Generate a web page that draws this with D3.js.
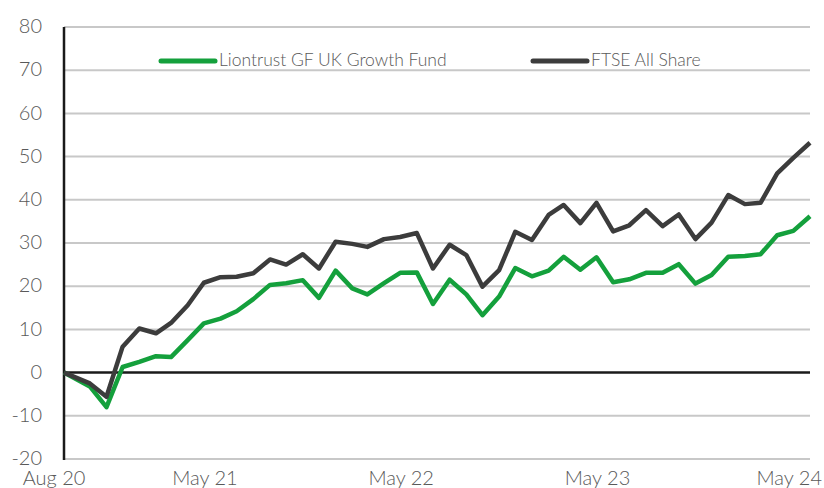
<!DOCTYPE html>
<html>
<head>
<meta charset="utf-8">
<script src="https://cdn.jsdelivr.net/npm/d3@7"></script>
<style>
  body { margin: 0; background: #fff; }
  svg { display: block; font-family: Lato, "Open Sans", sans-serif; font-weight: 300; }
</style>
</head>
<body>
<div id="chart"></div>
<script>
// dates of each observation (launch, then month ends)
var dates = ["2020-08-13", "2020-09-30", "2020-10-31", "2020-11-30", "2020-12-31",
  "2021-01-31", "2021-02-28", "2021-03-31", "2021-04-30", "2021-05-31", "2021-06-30",
  "2021-07-31", "2021-08-31", "2021-09-30", "2021-10-31", "2021-11-30", "2021-12-31",
  "2022-01-31", "2022-02-28", "2022-03-31", "2022-04-30", "2022-05-31", "2022-06-30",
  "2022-07-31", "2022-08-31", "2022-09-30", "2022-10-31", "2022-11-30", "2022-12-31",
  "2023-01-31", "2023-02-28", "2023-03-31", "2023-04-30", "2023-05-31", "2023-06-30",
  "2023-07-31", "2023-08-31", "2023-09-30", "2023-10-31", "2023-11-30", "2023-12-31",
  "2024-01-31", "2024-02-29", "2024-03-31", "2024-04-30", "2024-05-31"];

var fundValues = [0, -3.2, -8.0, 1.3, 2.5, 3.8, 3.6, 7.5, 11.4, 12.5, 14.2,
  17.0, 20.3, 20.7, 21.4, 17.3, 23.6, 19.5, 18.1, 20.7, 23.1, 23.2, 15.9,
  21.5, 18.1, 13.3, 17.6, 24.2, 22.3, 23.6, 26.8, 23.8, 26.7, 20.9, 21.6,
  23.1, 23.1, 25.1, 20.6, 22.6, 26.8, 27.0, 27.4, 31.8, 32.8, 36.2];

var ftseValues = [0, -2.5, -5.6, 6.0, 10.2, 9.1, 11.5, 15.6, 20.8, 22.1, 22.2,
  23.0, 26.2, 25.0, 27.4, 24.1, 30.3, 29.8, 29.1, 30.9, 31.4, 32.3, 24.1,
  29.6, 27.2, 19.9, 23.7, 32.6, 30.7, 36.5, 38.8, 34.6, 39.3, 32.7, 34.1,
  37.6, 33.9, 36.6, 30.9, 34.7, 41.1, 39.0, 39.3, 46.1, 49.7, 53.2];

var seriesNames = ["Liontrust GF UK Growth Fund", "FTSE All Share"];
var seriesColours = ["#14a03c", "#3c3c3c"];

var yTicks = [-20, -10, 0, 10, 20, 30, 40, 50, 60, 70, 80];
var xTickDates = ["2020-08-01", "2021-05-01", "2022-05-01", "2023-05-01", "2024-05-01"];
var xTickLabels = ["Aug 20", "May 21", "May 22", "May 23", "May 24"];

var W = 824, H = 488;
var margin = {top: 27, right: 14, bottom: 29, left: 64};

var parse = d3.timeParse("%Y-%m-%d");

var svg = d3.select("#chart").append("svg")
  .attr("width", W)
  .attr("height", H);

var x = d3.scaleTime()
  .domain([parse(dates[0]), parse(dates[dates.length - 1])])
  .range([margin.left, W - margin.right]);

var y = d3.scaleLinear()
  .domain([-20, 80])
  .range([H - margin.bottom, margin.top]);

// gridlines
svg.append("g")
  .selectAll("line")
  .data(yTicks.filter(function(d) { return d !== 0; }))
  .join("line")
  .attr("x1", margin.left)
  .attr("x2", W - margin.right)
  .attr("y1", function(d) { return y(d); })
  .attr("y2", function(d) { return y(d); })
  .attr("stroke", "#c8c8c8")
  .attr("stroke-width", 2);

// zero line
svg.append("line")
  .attr("x1", margin.left)
  .attr("x2", W - margin.right)
  .attr("y1", y(0))
  .attr("y2", y(0))
  .attr("stroke", "#1a1a1a")
  .attr("stroke-width", 2.5);

// y axis
var yAxis = svg.append("g")
  .attr("transform", "translate(" + margin.left + ",0)")
  .call(d3.axisLeft(y).tickValues(yTicks).tickSize(0).tickPadding(22)
    .tickFormat(function(d) { return String(d); }));
yAxis.select(".domain").remove();
yAxis.selectAll("text")
  .attr("fill", "#595959")
  .attr("dy", "0.28em")
  .style("font-size", "20px")
  .style("font-family", "Lato, sans-serif")
  .style("font-weight", 300);

svg.append("line")
  .attr("x1", margin.left)
  .attr("x2", margin.left)
  .attr("y1", y(80))
  .attr("y2", y(-20) + 1)
  .attr("stroke", "#1a1a1a")
  .attr("stroke-width", 2.5);

// x axis
var xAxis = svg.append("g")
  .attr("transform", "translate(0," + y(-20) + ")")
  .call(d3.axisBottom(x)
    .tickValues(xTickDates.map(parse))
    .tickFormat(function(d, i) { return xTickLabels[i]; })
    .tickSize(0)
    .tickPadding(12));
xAxis.select(".domain").remove();
xAxis.selectAll("text")
  .attr("fill", "#595959")
  .style("font-size", "20px")
  .style("font-family", "Lato, sans-serif")
  .style("font-weight", 300);

// keep the edge labels inside the picture
xAxis.selectAll(".tick").each(function(d, i) {
  var t = d3.select(this).select("text");
  var box = this.getBBox();
  var m = this.getCTM();
  var right = m.e + box.x + box.width;
  if (right > W - 2) t.attr("dx", (W - 2 - right) + "px");
  if (i === 0) t.attr("dx", "-4px");
});

// lines
var line = d3.line()
  .x(function(d) { return x(d.date); })
  .y(function(d) { return y(d.value); });

[fundValues, ftseValues].forEach(function(vals, k) {
  var pts = vals.map(function(v, i) { return {date: parse(dates[i]), value: v}; });
  svg.append("path")
    .datum(pts)
    .attr("fill", "none")
    .attr("stroke", seriesColours[k])
    .attr("stroke-width", 4.5)
    .attr("stroke-linejoin", "round")
    .attr("d", line);
});

// legend
var legendX = [161, 533];
seriesNames.forEach(function(name, k) {
  var g = svg.append("g").attr("transform", "translate(" + legendX[k] + ",61)");
  g.append("line")
    .attr("x1", 0).attr("x2", 54)
    .attr("stroke", seriesColours[k])
    .attr("stroke-width", 5)
    .attr("stroke-linecap", "round");
  g.append("text")
    .attr("x", 58)
    .attr("y", 5)
    .attr("fill", "#595959")
    .style("font-size", "17.5px")
    .style("font-weight", 300)
    .text(name);
});
</script>
</body>
</html>
